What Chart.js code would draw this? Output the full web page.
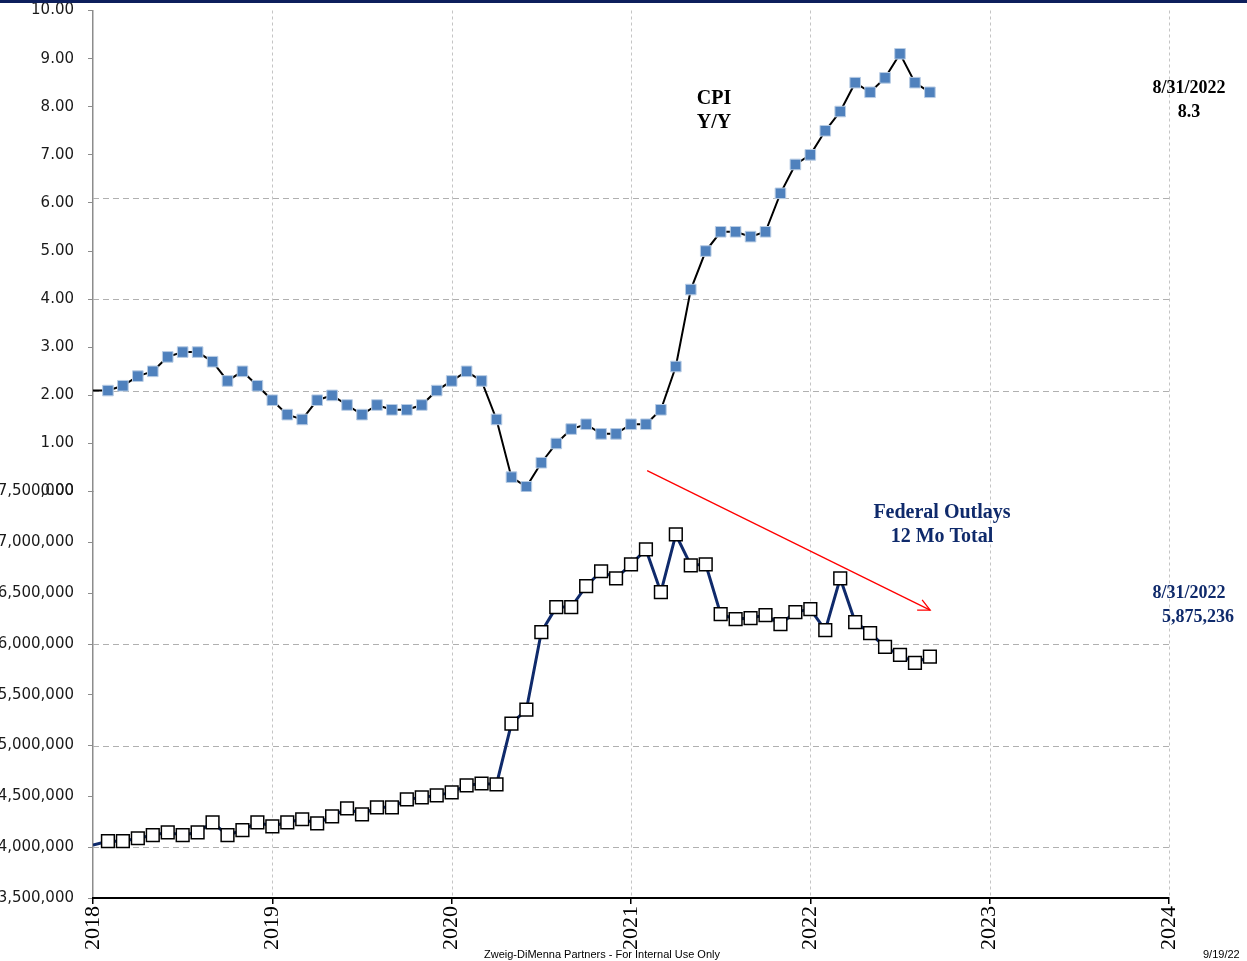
<!DOCTYPE html>
<html>
<head>
<meta charset="utf-8">
<script src="https://cdn.jsdelivr.net/npm/chart.js@4.4.1/dist/chart.umd.min.js"></script>
<style>
  html, body { margin: 0; padding: 0; background: #fff; }
  #wrap { width: 1247px; height: 961px; position: relative; }
</style>
</head>
<body>
<div id="wrap"><canvas id="c" width="1247" height="961"></canvas></div>
<script>
// Mois (fin de mois), de déc. 2017 à août 2022
const months = [];
for (let y = 2017; y <= 2022; y++) {
  for (let m = 1; m <= 12; m++) {
    if (y === 2017 && m < 12) continue;
    if (y === 2022 && m > 8) continue;
    months.push(y + "-" + String(m).padStart(2, "0"));
  }
}

// CPI Y/Y (%)
const cpiYoY = [
  2.1,
  2.1, 2.2, 2.4, 2.5, 2.8, 2.9, 2.9, 2.7, 2.3, 2.5, 2.2, 1.9,
  1.6, 1.5, 1.9, 2.0, 1.8, 1.6, 1.8, 1.7, 1.7, 1.8, 2.1, 2.3,
  2.5, 2.3, 1.5, 0.3, 0.1, 0.6, 1.0, 1.3, 1.4, 1.2, 1.2, 1.4,
  1.4, 1.7, 2.6, 4.2, 5.0, 5.4, 5.4, 5.3, 5.4, 6.2, 6.8, 7.0,
  7.5, 7.9, 8.5, 8.3, 8.6, 9.1, 8.5, 8.3
];

// Federal Outlays, 12 Mo Total
const outlays = [
  4020000,
  4059000, 4059000, 4088000, 4118000, 4147000, 4118000, 4147000, 4245000, 4118000, 4167000, 4245000, 4206000,
  4245000, 4275000, 4235000, 4304000, 4382000, 4324000, 4392000, 4392000, 4471000, 4490000, 4510000, 4539000,
  4608000, 4627000, 4618000, 5216000, 5353000, 6118000, 6363000, 6363000, 6569000, 6716000, 6647000, 6784000,
  6931000, 6510000, 7078000, 6775000, 6784000, 6294000, 6245000, 6255000, 6284000, 6196000, 6314000, 6343000,
  6137000, 6647000, 6216000, 6108000, 5971000, 5892000, 5814000, 5875236
];

const yearTicks = [2018, 2019, 2020, 2021, 2022, 2023, 2024];
const cpiGridLines = [2.1, 4.0, 6.1];
const outlayGridLines = [4000000, 5000000, 6000000];
// flèche rouge : [année, outlays]
const trendArrow = [[2021.09, 7706000], [2022.668, 6333000]];

// "2021-03" -> 2021.25 (fin de mois)
function toYear(s) {
  const [y, m] = s.split("-").map(Number);
  return y + m / 12;
}
const cpiPoints = months.map((s, i) => ({ x: toYear(s), y: cpiYoY[i] }));
const outlayPoints = months.map((s, i) => ({ x: toYear(s), y: outlays[i] }));

const NAVY = "#0f2a6b";
const SERIF = "'Liberation Serif', 'Times New Roman', serif";
const SANS_TICK = "'DejaVu Sans', Verdana, sans-serif";

function fixWidth(scale) {
  scale.width = 93;
  scale.paddingTop = 0;
  scale.paddingBottom = 0;
}

const decorations = {
  id: "decorations",
  beforeDatasetsDraw(chart) {
    const { ctx, chartArea: a, scales } = chart;
    const line = (x1, y1, x2, y2) => {
      ctx.beginPath(); ctx.moveTo(x1, y1); ctx.lineTo(x2, y2); ctx.stroke();
    };
    ctx.save();
    ctx.lineWidth = 1;
    ctx.strokeStyle = "#c4c4c4";
    ctx.setLineDash([3, 3]);
    yearTicks.slice(1).forEach(v => {
      const px = Math.round(scales.x.getPixelForValue(v)) + 0.5;
      line(px, a.top, px, a.bottom);
    });
    ctx.strokeStyle = "#b0b0b0";
    ctx.setLineDash([6, 4]);
    cpiGridLines.forEach(v => {
      const py = Math.round(scales.yCpi.getPixelForValue(v)) + 0.5;
      line(a.left, py, a.right, py);
    });
    outlayGridLines.forEach(v => {
      const py = Math.round(scales.yOut.getPixelForValue(v)) + 0.5;
      line(a.left, py, a.right, py);
    });
    ctx.restore();
  },
  afterDraw(chart) {
    const { ctx, scales } = chart;
    ctx.save();

    // bandeau bleu marine en haut
    ctx.fillStyle = "#0d1f5c";
    ctx.fillRect(0, 0, chart.width, 3);

    // flèche rouge
    const [p0, p1] = trendArrow;
    const x0 = scales.x.getPixelForValue(p0[0]), y0 = scales.yOut.getPixelForValue(p0[1]);
    const x1 = scales.x.getPixelForValue(p1[0]), y1 = scales.yOut.getPixelForValue(p1[1]);
    ctx.strokeStyle = "#ff0000";
    ctx.lineWidth = 1.3;
    ctx.beginPath(); ctx.moveTo(x0, y0); ctx.lineTo(x1, y1); ctx.stroke();
    const ang = Math.atan2(y1 - y0, x1 - x0);
    ctx.beginPath();
    ctx.moveTo(x1 - 13 * Math.cos(ang - 0.45), y1 - 13 * Math.sin(ang - 0.45));
    ctx.lineTo(x1, y1);
    ctx.lineTo(x1 - 13 * Math.cos(ang + 0.45), y1 - 13 * Math.sin(ang + 0.45));
    ctx.stroke();

    // textes
    ctx.textAlign = "center";
    ctx.textBaseline = "middle";
    ctx.fillStyle = "#000";
    ctx.font = "bold 20px " + SERIF;
    ctx.fillText("CPI", 714, 99);
    ctx.fillText("Y/Y", 714, 123);
    ctx.font = "bold 18px " + SERIF;
    ctx.fillText("8/31/2022", 1189, 88);
    ctx.fillText("8.3", 1189, 112);

    ctx.fillStyle = NAVY;
    ctx.font = "bold 20px " + SERIF;
    ctx.fillText("Federal Outlays", 942, 513);
    ctx.fillText("12 Mo Total", 942, 537);
    ctx.font = "bold 18px " + SERIF;
    ctx.fillText("8/31/2022", 1189, 593);
    ctx.fillText("5,875,236", 1198, 617);

    ctx.fillStyle = "#000";
    ctx.font = "11px 'Liberation Sans', Arial, sans-serif";
    ctx.fillText("Zweig-DiMenna Partners - For Internal Use Only", 602, 955);
    ctx.textAlign = "left";
    ctx.fillText("9/19/22", 1203, 955);
    ctx.restore();
  }
};

new Chart(document.getElementById("c"), {
  type: "line",
  data: {
    datasets: [
      {
        label: "CPI Y/Y",
        data: cpiPoints,
        yAxisID: "yCpi",
        borderColor: "#000000",
        borderWidth: 2,
        tension: 0,
        pointStyle: "rect",
        pointRadius: ctx => (ctx.dataIndex === 0 ? 0 : 7.5),
        pointBackgroundColor: "#4f81bd",
        pointBorderColor: "#b9cde5",
        pointBorderWidth: 1
      },
      {
        label: "Federal Outlays",
        data: outlayPoints,
        yAxisID: "yOut",
        borderColor: NAVY,
        borderWidth: 3,
        tension: 0,
        pointStyle: "rect",
        pointRadius: ctx => (ctx.dataIndex === 0 ? 0 : 9),
        pointBackgroundColor: "#ffffff",
        pointBorderColor: "#000000",
        pointBorderWidth: 1.5
      }
    ]
  },
  options: {
    responsive: false,
    animation: false,
    devicePixelRatio: 1,
    layout: { padding: { top: 7, right: 78, left: 0, bottom: 0 } },
    plugins: { legend: { display: false }, tooltip: { enabled: false } },
    scales: {
      // l'axe déclaré en premier est placé en bas de la pile
      yOut: {
        type: "linear",
        position: "left",
        stack: "panels",
        stackWeight: 408,
        min: 3500000,
        max: 7500000,
        afterFit: fixWidth,
        ticks: {
          stepSize: 500000,
          padding: 14,
          color: "#1a1a1a",
          font: { family: SANS_TICK, size: 15 },
          callback: v => v.toLocaleString("en-US")
        },
        grid: { drawOnChartArea: false, tickLength: 5, tickColor: "#8c8c8c" },
        border: { color: "#8c8c8c", width: 1.5 }
      },
      yCpi: {
        type: "linear",
        position: "left",
        stack: "panels",
        stackWeight: 483,
        min: 0,
        max: 10,
        afterFit: fixWidth,
        ticks: {
          stepSize: 1,
          padding: 14,
          color: "#1a1a1a",
          font: { family: SANS_TICK, size: 15 },
          callback: v => v.toFixed(2)
        },
        grid: { drawOnChartArea: false, tickLength: 5, tickColor: "#8c8c8c" },
        border: { color: "#8c8c8c", width: 1.5 }
      },
      x: {
        type: "linear",
        min: 2018,
        max: 2024,
        afterFit: scale => { scale.height = 63; scale.paddingLeft = 0; scale.paddingRight = 0; },
        afterBuildTicks: scale => { scale.ticks = yearTicks.map(v => ({ value: v })); },
        ticks: {
          autoSkip: false,
          minRotation: 90,
          maxRotation: 90,
          padding: 2,
          color: "#000",
          font: { family: SERIF, size: 22 },
          callback: v => String(v)
        },
        grid: { drawOnChartArea: false, tickLength: 6, tickColor: "#000", lineWidth: 1.5 },
        border: { color: "#000", width: 2 }
      }
    }
  },
  plugins: [decorations]
});
</script>
</body>
</html>
